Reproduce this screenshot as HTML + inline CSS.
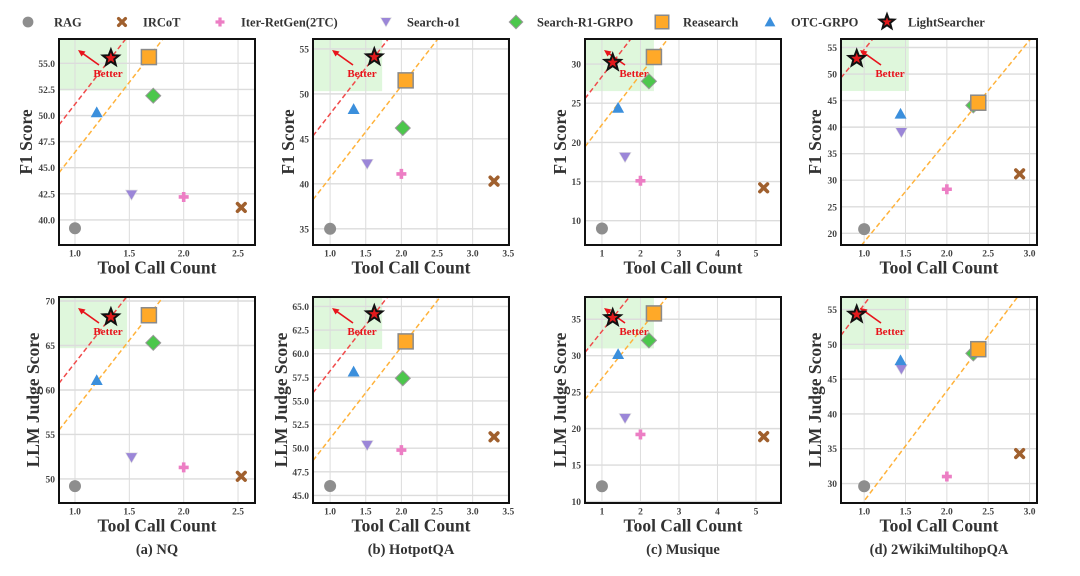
<!DOCTYPE html>
<html><head><meta charset="utf-8">
<style>
html,body{margin:0;padding:0;background:#fff;}
svg{display:block;font-family:"Liberation Serif",serif;}
</style></head>
<body>
<svg id="fig" width="1080" height="576" viewBox="0 0 1080 576" xmlns="http://www.w3.org/2000/svg"></svg>
<script>
const methods = ["RAG","IRCoT","Iter-RetGen(2TC)","Search-o1","Search-R1-GRPO","Reasearch","OTC-GRPO","LightSearcher"];
const xNQ = [1.0,2.53,2.0,1.52,1.72,1.68,1.2,1.33];
const xHotpot = [1.0,3.3,2.0,1.52,2.02,2.06,1.33,1.62];
const xMusique = [1.0,5.2,2.0,1.6,2.22,2.35,1.42,1.28];
const xWiki = [1.0,2.88,2.0,1.45,2.32,2.38,1.44,0.91];
const f1NQ = [39.2,41.2,42.2,42.4,51.9,55.6,50.3,55.5];
const f1Hotpot = [35.0,40.3,41.1,42.2,46.2,51.5,48.3,54.1];
const f1Musique = [9.0,14.2,15.1,18.1,27.8,30.9,24.4,30.2];
const f1Wiki = [20.8,31.2,28.3,39.0,44.1,44.6,42.5,52.9];
const llmNQ = [49.2,50.3,51.3,52.4,65.3,68.4,61.1,68.2];
const llmHotpot = [46.0,51.2,49.8,50.3,57.4,61.3,58.1,64.2];
const llmMusique = [12.1,18.9,19.2,21.4,32.1,35.8,30.2,35.2];
const llmWiki = [29.6,34.3,31.0,46.4,48.7,49.3,47.7,54.3];
const xTicksNQ = ["1.0","1.5","2.0","2.5"];
const xTicksHotpot = ["1.0","1.5","2.0","2.5","3.0","3.5"];
const xTicksMusique = ["1","2","3","4","5"];
const xTicksWiki = ["1.0","1.5","2.0","2.5","3.0"];
const yTicksF1NQ = ["40.0","42.5","45.0","47.5","50.0","52.5","55.0"];
const yTicksF1Hotpot = ["35","40","45","50","55"];
const yTicksF1Musique = ["10","15","20","25","30"];
const yTicksF1Wiki = ["20","25","30","35","40","45","50","55"];
const yTicksLlmNQ = ["50","55","60","65","70"];
const yTicksLlmHotpot = ["45.0","47.5","50.0","52.5","55.0","57.5","60.0","62.5","65.0"];
const yTicksLlmMusique = ["10","15","20","25","30","35"];
const yTicksLlmWiki = ["30","35","40","45","50","55"];
const xDomNQ=[0.853,2.656], xDomHotpot=[0.76,3.51], xDomMusique=[0.56,5.65], xDomWiki=[0.72,3.09];
const yDomF1NQ=[37.6,57.33], yDomF1Hotpot=[33.2,56.1], yDomF1Musique=[6.9,33.2], yDomF1Wiki=[17.8,56.6];
const yDomLlmNQ=[47.3,70.45], yDomLlmHotpot=[44.2,66.0], yDomLlmMusique=[9.8,38.05], yDomLlmWiki=[27.2,56.8];
const slopeF1 = [13.4,10.2,6.4,19.0];
const slopeLlm = [15.6,9.7,6.6,15.8];
const regionF1 = [[1.48,52.4],[1.73,50.3],[2.35,26.55],[1.54,46.8]];
const regionLlm = [[1.48,64.7],[1.73,60.5],[2.35,31.0],[1.54,49.3]];
const captions = ["(a) NQ","(b) HotpotQA","(c) Musique","(d) 2WikiMultihopQA"];

const NS="http://www.w3.org/2000/svg";
const svg=document.getElementById('fig');
function mk(tag,attrs,parent){const e=document.createElementNS(NS,tag);for(const k in attrs)e.setAttribute(k,attrs[k]);(parent||svg).appendChild(e);return e;}
const colors=["#8e8e8e","#a0602e","#ec7ec4","#9b86d8","#4cc74c","#ffa928","#3b8fdc","#e31a1c"];

function marker(g,i,cx,cy,scale){
  const s=scale||1;let e;
  if(i===0){e=mk('circle',{cx:cx,cy:cy,r:6*s,fill:colors[0]},g);}
  else if(i===1){const d=3.8*s;e=mk('path',{d:`M${cx-d},${cy-d}L${cx+d},${cy+d}M${cx+d},${cy-d}L${cx-d},${cy+d}`,stroke:colors[1],'stroke-width':3.6*s,'stroke-linecap':'round',fill:'none'},g);}
  else if(i===2){const d=5*s;e=mk('path',{d:`M${cx-d},${cy}L${cx+d},${cy}M${cx},${cy-d}L${cx},${cy+d}`,stroke:colors[2],'stroke-width':3.6*s,fill:'none'},g);}
  else if(i===3){const d=6*s;e=mk('polygon',{points:`${cx-d},${cy-d*0.8} ${cx+d},${cy-d*0.8} ${cx},${cy+d*0.9}`,fill:colors[3],stroke:'#ddd','stroke-width':0.6},g);}
  else if(i===4){const d=7.5*s;e=mk('polygon',{points:`${cx},${cy-d} ${cx+d},${cy} ${cx},${cy+d} ${cx-d},${cy}`,fill:colors[4],stroke:'#999','stroke-width':1},g);}
  else if(i===5){const d=7.5*s;e=mk('rect',{x:cx-d,y:cy-d,width:2*d,height:2*d,fill:colors[5],stroke:'#8a8a8a','stroke-width':1.5},g);}
  else if(i===6){const d=6*s;e=mk('polygon',{points:`${cx},${cy-d} ${cx+d},${cy+d*0.8} ${cx-d},${cy+d*0.8}`,fill:colors[6]},g);}
  else {const R=8.5*s,r=3.6*s;let p=[];for(let k=0;k<10;k++){const a=-Math.PI/2+k*Math.PI/5;const rr=k%2?r:R;p.push((cx+rr*Math.cos(a)).toFixed(1)+','+(cy+rr*Math.sin(a)).toFixed(1));}
    e=mk('polygon',{points:p.join(' '),fill:colors[7],stroke:'#111','stroke-width':2},g);}
  return e;
}

const legX=[28,122,220,386,516,662,770,887];
methods.forEach((m,i)=>{
  const g=mk('g',{});
  
  
  marker(g,i,legX[i],22,0.9);
  const t=mk('text',{x:legX[i]+(i===0?26:21),y:26.5,'font-size':12.5,'font-weight':'bold',fill:'#333'},g);
  t.textContent=m;
});

const panels=[
 {xs:xNQ,ys:f1NQ,xd:xDomNQ,yd:yDomF1NQ,xt:xTicksNQ,yt:yTicksF1NQ,sl:slopeF1[0],rg:regionF1[0],L:59,T:39,yl:"F1 Score",lo:31,id:'nq-f1'},
 {xs:xHotpot,ys:f1Hotpot,xd:xDomHotpot,yd:yDomF1Hotpot,xt:xTicksHotpot,yt:yTicksF1Hotpot,sl:slopeF1[1],rg:regionF1[1],L:313,T:39,yl:"F1 Score",lo:23,id:'hotpot-f1'},
 {xs:xMusique,ys:f1Musique,xd:xDomMusique,yd:yDomF1Musique,xt:xTicksMusique,yt:yTicksF1Musique,sl:slopeF1[2],rg:regionF1[2],L:585,T:39,yl:"F1 Score",lo:23,id:'musique-f1'},
 {xs:xWiki,ys:f1Wiki,xd:xDomWiki,yd:yDomF1Wiki,xt:xTicksWiki,yt:yTicksF1Wiki,sl:slopeF1[3],rg:regionF1[3],L:841,T:39,yl:"F1 Score",lo:24,id:'wiki-f1'},
 {xs:xNQ,ys:llmNQ,xd:xDomNQ,yd:yDomLlmNQ,xt:xTicksNQ,yt:yTicksLlmNQ,sl:slopeLlm[0],rg:regionLlm[0],L:59,T:297,yl:"LLM Judge Score",lo:24,id:'nq-llm'},
 {xs:xHotpot,ys:llmHotpot,xd:xDomHotpot,yd:yDomLlmHotpot,xt:xTicksHotpot,yt:yTicksLlmHotpot,sl:slopeLlm[1],rg:regionLlm[1],L:313,T:297,yl:"LLM Judge Score",lo:30,id:'hotpot-llm'},
 {xs:xMusique,ys:llmMusique,xd:xDomMusique,yd:yDomLlmMusique,xt:xTicksMusique,yt:yTicksLlmMusique,sl:slopeLlm[2],rg:regionLlm[2],L:585,T:297,yl:"LLM Judge Score",lo:23,id:'musique-llm'},
 {xs:xWiki,ys:llmWiki,xd:xDomWiki,yd:yDomLlmWiki,xt:xTicksWiki,yt:yTicksLlmWiki,sl:slopeLlm[3],rg:regionLlm[3],L:841,T:297,yl:"LLM Judge Score",lo:24,id:'wiki-llm'}
];
const W=196,H=206;
panels.forEach((p,pi)=>{
  const g=mk('g',{});
  
  
  const sx=v=>p.L+(v-p.xd[0])/(p.xd[1]-p.xd[0])*W;
  const sy=v=>p.T+H-(v-p.yd[0])/(p.yd[1]-p.yd[0])*H;
  const clipId='clip'+pi;
  const cp=mk('clipPath',{id:clipId},g);mk('rect',{x:p.L,y:p.T,width:W,height:H},cp);
  const inner=mk('g',{'clip-path':`url(#${clipId})`},g);
  const reg=mk('rect',{x:p.L,y:p.T,width:sx(p.rg[0])-p.L,height:sy(p.rg[1])-p.T,fill:'#dff7dc'},inner);
  
  
  p.xt.forEach(t=>{const x=sx(parseFloat(t));mk('line',{x1:x,x2:x,y1:p.T,y2:p.T+H,stroke:'#dcdcdc','stroke-width':1},inner);});
  p.yt.forEach(t=>{const y=sy(parseFloat(t));mk('line',{x1:p.L,x2:p.L+W,y1:y,y2:y,stroke:'#dcdcdc','stroke-width':1.4},inner);});
  [[7,'#f04a4a','red-tradeoff-line'],[5,'#ffb23a','orange-tradeoff-line']].forEach(([mi,c,nm])=>{
    const x0=p.xs[mi],y0=p.ys[mi];
    const xa=p.xd[0],xb=p.xd[1];
    const ln=mk('line',{x1:sx(xa),y1:sy(y0+p.sl*(xa-x0)),x2:sx(xb),y2:sy(y0+p.sl*(xb-x0)),stroke:c,'stroke-width':1.5,'stroke-dasharray':'5,3'},inner);
    
    
  });
  const ax1=p.L+40,ay1=p.T+26,ax2=p.L+19,ay2=p.T+11;
  mk('line',{x1:ax1,y1:ay1,x2:ax2+3,y2:ay2+2.2,stroke:'#e8141c','stroke-width':1.6},inner);
  mk('polygon',{points:`${ax2},${ay2} ${ax2+7.5},${ay2+1.5} ${ax2+3.5},${ay2+6.5}`,fill:'#e8141c'},inner);
  const bt=mk('text',{x:p.L+49,y:p.T+38,'text-anchor':'middle','font-size':11,'font-weight':'bold',fill:'#e8141c'},inner);
  bt.textContent='Better';
  
  
  p.xs.forEach((xv,i)=>{
    const mg=mk('g',{},inner);
    
    
    marker(mg,i,sx(xv),sy(p.ys[i]),1);
  });
  mk('rect',{x:p.L,y:p.T,width:W,height:H,fill:'none',stroke:'#111','stroke-width':2},g);
  p.xt.forEach(t=>{const tx=mk('text',{x:sx(parseFloat(t)),y:p.T+H+11.5,'text-anchor':'middle','font-size':9.5,'font-weight':'bold',fill:'#444'},g);tx.textContent=t;});
  p.yt.forEach(t=>{const tx=mk('text',{x:p.L-4,y:sy(parseFloat(t))+3.5,'text-anchor':'end','font-size':9.5,'font-weight':'bold',fill:'#444'},g);tx.textContent=t;});
  const xl=mk('text',{x:p.L+W/2,y:p.T+H+28.5,'text-anchor':'middle','font-size':17.5,'font-weight':'bold',fill:'#333'},g);
  xl.textContent='Tool Call Count';
  
  
  const yx=p.L-p.lo, yy=p.T+H/2;
  const yl=mk('text',{x:yx,y:yy,transform:`rotate(-90 ${yx} ${yy})`,'text-anchor':'middle','dominant-baseline':'middle','font-size':17.5,'font-weight':'bold',fill:'#333'},g);
  yl.textContent=p.yl;
  
  
});
[59,313,585,841].forEach((L,i)=>{
  const c=mk('text',{x:L+W/2,y:554,'text-anchor':'middle','font-size':14.5,'font-weight':'bold',fill:'#333'});
  c.textContent=captions[i];
  
  
});
</script>
</body></html>
